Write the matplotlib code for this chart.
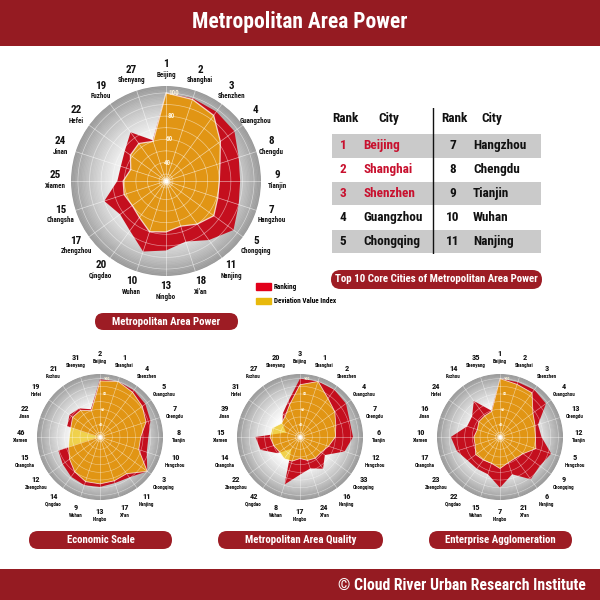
import numpy as np
import matplotlib
matplotlib.use('Agg')
import matplotlib.pyplot as plt
from matplotlib import font_manager
from matplotlib.patches import Rectangle, FancyBboxPatch, Patch

# ---- data ----
cities = ['Beijing', 'Shanghai', 'Shenzhen', 'Guangzhou', 'Chengdu', 'Tianjin',
          'Hangzhou', 'Chongqing', 'Nanjing', "Xi'an", 'Ningbo', 'Wuhan',
          'Qingdao', 'Zhengzhou', 'Changsha', 'Xiamen', 'Jinan', 'Hefei',
          'Fuzhou', 'Shenyang']

power_rank = [1, 2, 3, 4, 8, 9, 7, 5, 11, 18, 13, 10, 20, 17, 15, 25, 24, 22, 19, 27]
power_red = [100, 99, 98, 97, 90, 88, 90, 96, 87, 79, 84, 88, 77, 73, 80, 66, 65, 68, 76, 61]
power_dev = [100, 98, 94, 82, 73, 70, 71, 75, 70, 65, 68, 70, 63, 60, 62, 61, 56, 62, 64, 60]

econ_rank = [2, 1, 4, 5, 7, 8, 10, 3, 11, 17, 13, 9, 14, 12, 15, 46, 22, 19, 21, 31]
econ_red = [99, 100, 99, 97, 93, 87, 88, 100, 89, 87, 89, 90, 88, 84, 81, 26, 69, 73, 70, 62]
econ_dev = [97, 100, 96, 92, 87, 77, 77, 100, 83, 84, 85, 85, 80, 73, 67, 64, 64, 68, 67, 60]

quality_rank = [3, 1, 2, 4, 7, 6, 12, 33, 16, 24, 17, 8, 42, 22, 14, 15, 39, 31, 27, 20]
quality_red = [100, 100, 100, 98, 92, 93, 85, 64, 75, 67, 73, 89, 43, 60, 78, 82, 43, 52, 62, 73]
quality_dev = [92, 100, 86, 80, 73, 70, 63, 58, 58, 56, 52, 57, 59, 57, 60, 63, 62, 54, 57, 68]

ent_rank = [1, 2, 3, 4, 13, 12, 5, 9, 6, 21, 7, 15, 22, 23, 17, 10, 16, 24, 14, 35]
ent_red = [100, 99, 100, 98, 76, 78, 94, 88, 92, 75, 90, 75, 75, 76, 83, 88, 69, 69, 82, 60]
ent_dev = [100, 96, 95, 77, 72, 70, 73, 61, 58, 59, 65, 60, 61, 63, 58, 58, 55, 58, 58, 59]

grid_labels = [40, 60, 80, 100]

table_left_rank = [1, 2, 3, 4, 5]
table_left_city = ['Beijing', 'Shanghai', 'Shenzhen', 'Guangzhou', 'Chongqing']
table_right_rank = [7, 8, 9, 10, 11]
table_right_city = ['Hangzhou', 'Chengdu', 'Tianjin', 'Wuhan', 'Nanjing']

# ---- style ----
avail = {f.name for f in font_manager.fontManager.ttflist}
narrow = next((f for f in ['Liberation Sans Narrow', 'Roboto Condensed',
                           'Open Sans Condensed', 'Roboto'] if f in avail), 'DejaVu Sans')
plt.rcParams['font.family'] = [narrow, 'DejaVu Sans']
plt.rcParams['font.weight'] = 'bold'

DARK_RED = '#951B22'
PILL = '#9D1C24'
RED = '#C40F1E'
ORANGE = '#ECC311'
R_MIN, R_MAX = 24, 106
W = 600.0

fig = plt.figure(figsize=(6, 6), dpi=100)


def fx(px):
    return px / W


def fy(py):
    return 1 - py / W


def chord(values, n=10):
    # straight edges between spokes, expressed back in polar data
    th = np.linspace(0, 2 * np.pi, len(values), endpoint=False)
    th = np.append(th, th[0])
    rr = np.append(values, values[0]) - R_MIN
    x, y = rr * np.sin(th), rr * np.cos(th)
    xs, ys = [], []
    for i in range(len(th) - 1):
        t = np.linspace(0, 1, n, endpoint=False)
        xs.extend(x[i] + (x[i + 1] - x[i]) * t)
        ys.extend(y[i] + (y[i + 1] - y[i]) * t)
    xs, ys = np.array(xs), np.array(ys)
    return np.arctan2(xs, ys), np.hypot(xs, ys) + R_MIN


def radar(cx, cy, rad, red, dev, ranks, big):
    ax = fig.add_axes([fx(cx - rad), fy(cy + rad), 2 * rad / W, 2 * rad / W],
                      projection='polar')
    ax.set_theta_zero_location('N')
    ax.set_theta_direction(-1)
    ax.set_ylim(R_MIN, R_MAX)
    ax.set_axis_off()

    # shaded disk
    edges = np.linspace(R_MIN, R_MAX, 70)
    for r0, r1 in zip(edges[:-1], edges[1:]):
        t = ((r0 + r1) / 2 - R_MIN) / (R_MAX - R_MIN)
        g = 1 - 0.40 * np.clip((t - 0.35) / 0.65, 0, 1) ** 1.5
        ax.bar(np.pi, r1 - r0, width=2 * np.pi, bottom=r0,
               color=(g, g, g), edgecolor=(g, g, g), linewidth=0.4, zorder=1)

    th, rr = chord(red)
    ax.fill(th, rr, color=RED, zorder=2, linewidth=0)
    th, rr = chord(dev)
    ax.fill(th, rr, facecolor=ORANGE, alpha=0.75, edgecolor='white',
            linewidth=0.9 if big else 0.6, zorder=3)

    # grid
    spokes = np.linspace(0, 2 * np.pi, len(cities), endpoint=False)
    circ = np.linspace(0, 2 * np.pi, 300)
    lw = 0.5 if big else 0.4
    for s in spokes:
        ax.plot([s, s], [R_MIN, R_MAX], color='white', lw=lw, alpha=0.6, zorder=4)
    for v in range(30, 101, 10):
        ax.plot(circ, np.full_like(circ, v), color='white', lw=lw, alpha=0.5, zorder=4)
    for v in grid_labels:
        ax.text(np.deg2rad(5 if big else 7), v, str(v), fontsize=5 if big else 3,
                color='#FFF4DA', ha='center', va='center', zorder=5)
    for k, a in [(60, 0.25), (25, 0.5), (6, 1.0)]:
        ax.scatter([0], [R_MIN], s=k if big else k / 2, color='white',
                   alpha=a, linewidths=0, zorder=6)

    # labels
    r_lab = R_MIN + (111 if big else 79) / rad * (R_MAX - R_MIN)
    for s, name, rk in zip(spokes, cities, ranks):
        ax.annotate(str(rk), (s, r_lab), xytext=(0, 4 if big else 3),
                    textcoords='offset points', ha='center', va='center',
                    fontsize=8 if big else 6, color='#111111',
                    annotation_clip=False)
        ax.annotate(name, (s, r_lab), xytext=(0, -3.6 if big else -2.6),
                    textcoords='offset points', ha='center', va='center',
                    fontsize=5 if big else 3.7, color='#111111',
                    annotation_clip=False)
    return ax


def pill(cx, cy, w, h, text, size=7.8):
    fig.patches.append(FancyBboxPatch((fx(cx - w / 2), fy(cy + h / 2)), w / W, h / W,
                                      boxstyle='round,pad=0,rounding_size=%f' % (h / 2 / W),
                                      transform=fig.transFigure, facecolor=PILL,
                                      edgecolor='none', mutation_aspect=1))
    fig.text(fx(cx), fy(cy), text, color='white', fontsize=size,
             ha='center', va='center')


# header / footer
fig.patches.append(Rectangle((0, fy(46)), 1, 46 / W, transform=fig.transFigure,
                             facecolor=DARK_RED, edgecolor='none'))
fig.text(0.5, fy(22), 'Metropolitan Area Power', color='white', fontsize=15.5,
         ha='center', va='center')
fig.patches.append(Rectangle((0, 0), 1, 31 / W, transform=fig.transFigure,
                             facecolor=DARK_RED, edgecolor='none'))
fig.text(fx(586), fy(585), '\u00a9 Cloud River Urban Research Institute', color='white',
         fontsize=11.3, ha='right', va='center')

# radars
radar(166, 181, 95, power_red, power_dev, power_rank, True)
radar(100, 437, 63, econ_red, econ_dev, econ_rank, False)
radar(300, 437, 63, quality_red, quality_dev, quality_rank, False)
radar(500, 437, 63, ent_red, ent_dev, ent_rank, False)

pill(166.5, 321.5, 143, 17, 'Metropolitan Area Power')
pill(436.5, 279.5, 211, 19, 'Top 10 Core Cities of Metropolitan Area Power')
pill(100.5, 540, 143, 18, 'Economic Scale')
pill(300.5, 540, 165, 18, 'Metropolitan Area Quality')
pill(500.5, 540, 143, 18, 'Enterprise Agglomeration')

# legend
fig.legend(handles=[Patch(color='#E2001A', label='Ranking'),
                    Patch(color='#E8B90C', label='Deviation Value Index')],
           loc='upper left', bbox_to_anchor=(fx(256), fy(283)), frameon=False,
           fontsize=5.1, handlelength=2.1, handleheight=1.1, handletextpad=0.45,
           labelspacing=0.9, borderpad=0, borderaxespad=0)

# table
ax_t = fig.add_axes([fx(331), fy(254), 210 / W, 146 / W])
ax_t.set_xlim(0, 210)
ax_t.set_ylim(4.52, -1.59)
ax_t.set_axis_off()
ax_t.barh([0, 2, 4], 209, left=0.5, height=0.97, color='#CACACA', zorder=1)
ax_t.axvline(102, color='#111111', lw=1.0, zorder=2)
for xh, txt in [(14, 'Rank'), (58, 'City'), (123, 'Rank'), (161, 'City')]:
    ax_t.text(xh, -1.13, txt, fontsize=9.5, ha='center', va='center', color='#111111')
for i in range(5):
    col = '#C8102E' if table_left_rank[i] <= 3 else '#111111'
    ax_t.text(12, i, str(table_left_rank[i]), fontsize=9.5, ha='center', va='center',
              color=col, zorder=3)
    ax_t.text(32, i, table_left_city[i], fontsize=9.5, ha='left', va='center',
              color=col, zorder=3)
    ax_t.text(122, i, str(table_right_rank[i]), fontsize=9.5, ha='center', va='center',
              color='#111111', zorder=3)
    ax_t.text(142, i, table_right_city[i], fontsize=9.5, ha='left', va='center',
              color='#111111', zorder=3)

fig.savefig('out.png', dpi=100)
